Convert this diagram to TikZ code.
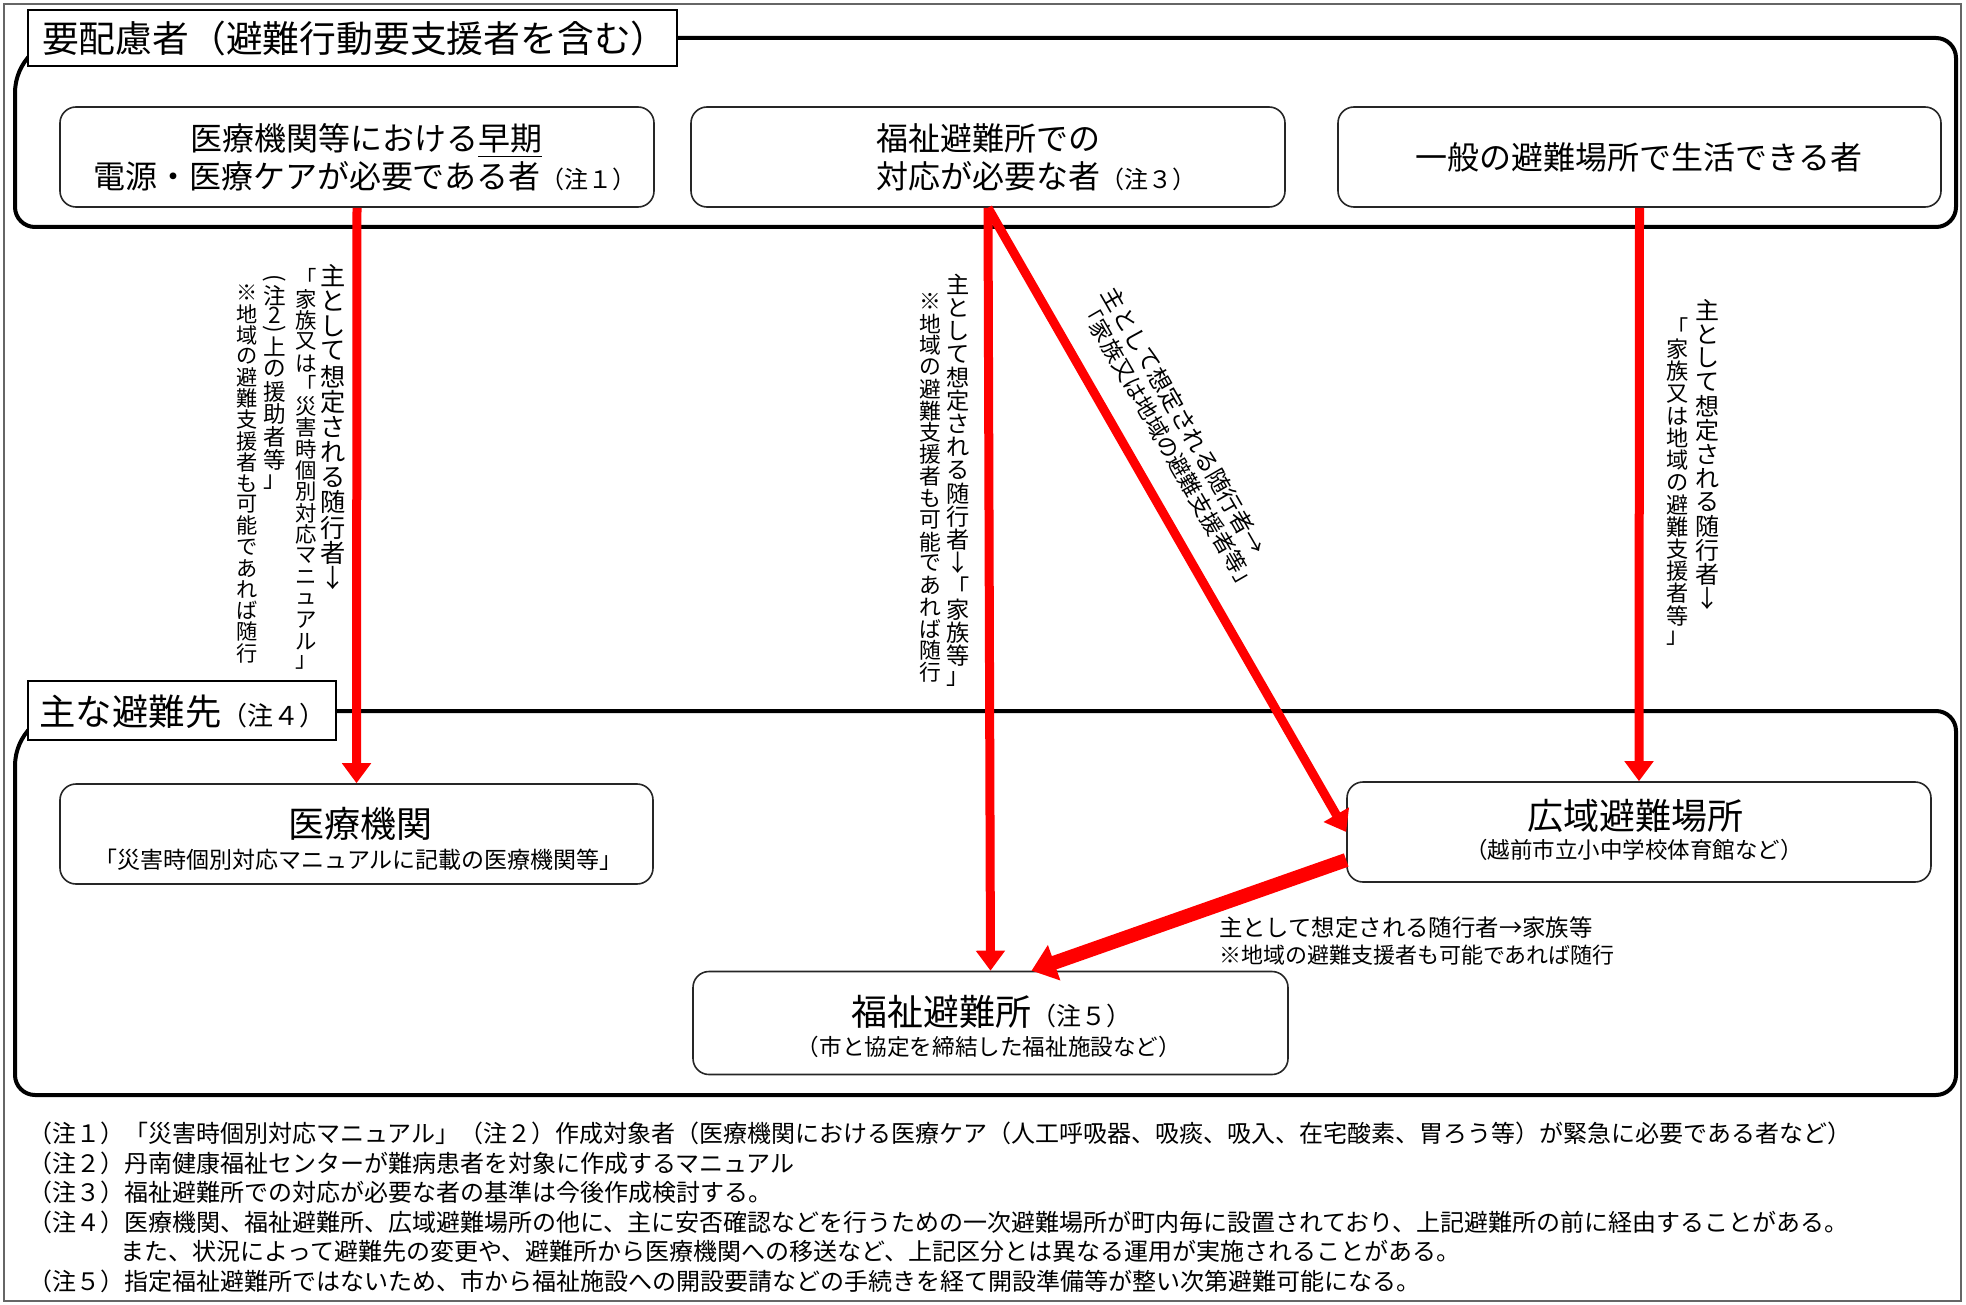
\documentclass[tikz,border=0pt]{standalone}
\usepackage{fontspec}
\setmainfont{Noto Sans CJK JP}
\usepackage{graphicx}
\usetikzlibrary{arrows.meta,calc}

\newcommand\jfs[1]{\fontsize{#1pt}{#1pt}\selectfont}

\makeatletter
\def\vt@end{\vtEND}
\newcommand\vtslot[2]{\hbox to 1em{\hss\vbox to #1{\vss\hbox{#2}\vss}\hss}}
\def\vtloop#1{\def\vt@tmp{#1}\ifx\vt@tmp\vt@end\else\setbox0=\hbox{#1}\vtslot{\wd0}{\box0}\expandafter\vtloop\fi}
\newcommand\vtext[1]{\vbox{\offinterlineskip\vtloop#1\vtEND}}
\newcommand\vtpad[2]{\hbox to #1{\hss#2\hss}}
\makeatother

\tikzset{
  grpline/.style={draw=black, line width=2pt},
  ttl/.style={draw=black, line width=0.7pt, fill=white, inner sep=0pt},
  bx/.style={draw=black!85, line width=0.8pt, rounded corners=8pt, fill=white, inner sep=0pt},
  txt/.style={inner sep=0pt, outer sep=0pt, text=black},
  arr/.style={draw=red, line width=4.5pt, -{Triangle[width=14pt,length=10pt]}},
  arrb/.style={draw=red, line width=7pt, -{Triangle[width=18pt,length=12pt]}},
}

\begin{document}
\begin{tikzpicture}[x=0.5pt,y=-0.5pt]
\useasboundingbox (0,0) rectangle (1966,1305);
\draw[black!60, line width=0.6pt] (4,4) rectangle (1961,1301);

% group frames
\draw[grpline] (15,93) -- (15,207) arc[start angle=180,end angle=270,radius=10pt]
  -- (1936,227) arc[start angle=270,end angle=360,radius=10pt]
  -- (1956,58) arc[start angle=0,end angle=90,radius=10pt]
  -- (70,38) arc[start angle=90,end angle=180,radius=27.5pt] -- cycle;
\draw[grpline] (15,766) -- (15,1075) arc[start angle=180,end angle=270,radius=10pt]
  -- (1936,1095) arc[start angle=270,end angle=360,radius=10pt]
  -- (1956,731) arc[start angle=0,end angle=90,radius=10pt]
  -- (70,711) arc[start angle=90,end angle=180,radius=27.5pt] -- cycle;
\node[ttl, minimum width=324.5pt, minimum height=28pt] (T1) at (352.5,38) {};
\node[ttl, minimum width=154pt, minimum height=29.5pt] (T2) at (182,710.5) {};
\node[txt, anchor=base west, font=\jfs{18.4}] (T1t) at (42,53) {要配慮者（避難行動要支援者を含む）};
\node[txt, anchor=base west, font=\jfs{18.2}] (T2t) at (39.5,725.7) {主な避難先{\jfs{13}（注４）}};

% boxes
\node[bx, minimum width=297pt, minimum height=50pt] (A) at (357,157) {};
\node[bx, minimum width=297pt, minimum height=50pt] (B) at (988,157) {};
\node[bx, minimum width=301.5pt, minimum height=50pt] (C) at (1639.5,157) {};
\node[bx, minimum width=296.5pt, minimum height=50pt] (D) at (356.5,834) {};
\node[bx, minimum width=292pt, minimum height=50pt] (E) at (1639,832) {};
\node[bx, minimum width=297.5pt, minimum height=51.5pt] (F) at (990.5,1023) {};

% box texts
\node[txt, anchor=base, font=\jfs{16}] (At1) at (366,151) {医療機関等における\underline{早期}};
\node[txt, anchor=base west, font=\jfs{16}] (At2) at (93,189) {電源・医療ケアが必要である者{\jfs{12}（注１）}};
\node[txt, anchor=base west, font=\jfs{16}] (Bt1) at (876,151) {福祉避難所での};
\node[txt, anchor=base west, font=\jfs{16}] (Bt2) at (876,189) {対応が必要な者{\jfs{12}（注３）}};
\node[txt, anchor=base, font=\jfs{16}] (Ct) at (1639,170) {一般の避難場所で生活できる者};
\node[txt, anchor=base, font=\jfs{18}] (Dt1) at (360,837.7) {医療機関};
\node[txt, anchor=base, font=\jfs{11.5}] (Dt2) at (358.6,868.7) {「災害時個別対応マニュアルに記載の医療機関等」};
\node[txt, anchor=base, font=\jfs{18}] (Et1) at (1635,829.7) {広域避難場所};
\node[txt, anchor=base, font=\jfs{11.25}] (Et2) at (1634,858.6) {（越前市立小中学校体育館など）};
\node[txt, anchor=base west, font=\jfs{18}] (Ft1) at (851,1025.5) {福祉避難所{\jfs{12.5}（注５）}};
\node[txt, anchor=base, font=\jfs{11.3}] (Ft2) at (989,1055.6) {（市と協定を締結した福祉施設など）};

% vertical labels
\node[txt, anchor=north, font=\jfs{12.6}] (La1) at (333,263) {\vtext{主として想定される随行者↓}};
\node[txt, anchor=north, font=\jfs{10.7}] (La2) at (306,267) {\vtext{「家族又は「災害時個別対応マニュアル」}};
\node[txt, anchor=north, font=\jfs{11.3}] (La3) at (275,273) {\vtext{{\vtpad{0.5em}{\rotatebox{-90}{(}}}注{\vtpad{0.75em}{2}}{\vtpad{0.5em}{\rotatebox{-90}{)}}}上の援助者等」}};
\node[txt, anchor=north, font=\jfs{10.6}] (La4) at (247,282) {\vtext{※地域の避難支援者も可能であれば随行}};
\node[txt, anchor=north, font=\jfs{11.6}] (Lb1) at (958,273) {\vtext{主として想定される随行者↓「家族等」}};
\node[txt, anchor=north, font=\jfs{10.9}] (Lb2) at (930,291) {\vtext{※地域の避難支援者も可能であれば随行}};
\node[txt, anchor=north, font=\jfs{12}] (Lc1) at (1707,298) {\vtext{主として想定される随行者↓}};
\node[txt, anchor=north, font=\jfs{11.1}] (Lc2) at (1678,316) {\vtext{「家族又は地域の避難支援者等」}};

% diagonal label
\node[txt, rotate=-60, align=left, font={\fontsize{11.4pt}{13pt}\selectfont}] (Ld) at (1180,440)
  {{\jfs{11.7}主として想定される随行者→}\\{\jfs{11.1}「家族又は地域の避難支援者等」}};

% E->F label
\node[txt, anchor=base west, font=\jfs{11.7}] (Le1) at (1219,936.7) {主として想定される随行者→家族等};
\node[txt, anchor=base west, font=\jfs{11}] (Le2) at (1219,963.4) {※地域の避難支援者も可能であれば随行};

% footnotes
\node[txt, anchor=base west, font=\jfs{12}] (N1) at (28,1142) {（注１）「災害時個別対応マニュアル」（注２）作成対象者（医療機関における医療ケア（人工呼吸器、吸痰、吸入、在宅酸素、胃ろう等）が緊急に必要である者など）};
\node[txt, anchor=base west, font=\jfs{12}] (N2) at (28,1172) {（注２）丹南健康福祉センターが難病患者を対象に作成するマニュアル};
\node[txt, anchor=base west, font=\jfs{12}] (N3) at (28,1201) {（注３）福祉避難所での対応が必要な者の基準は今後作成検討する。};
\node[txt, anchor=base west, font=\jfs{12}] (N4) at (28,1231) {（注４）医療機関、福祉避難所、広域避難場所の他に、主に安否確認などを行うための一次避難場所が町内毎に設置されており、上記避難所の前に経由することがある。};
\node[txt, anchor=base west, font=\jfs{12}] (N5) at (120,1260) {また、状況によって避難先の変更や、避難所から医療機関への移送など、上記区分とは異なる運用が実施されることがある。};
\node[txt, anchor=base west, font=\jfs{12}] (N6) at (28,1290) {（注５）指定福祉避難所ではないため、市から福祉施設への開設要請などの手続きを経て開設準備等が整い次第避難可能になる。};

% arrows
\coordinate (Es) at ($(E.west)+(0,28)$);
\coordinate (Fe) at ($(F.north)+(41,0)$);
\draw[arr] (A.south) -- (D.north);
\draw[arr] (B.south) -- (F.north);
\draw[arr] (B.south) -- (E.west);
\draw[arr] (C.south) -- (E.north);
\draw[arrb] (Es) -- (Fe);
\end{tikzpicture}
\end{document}
